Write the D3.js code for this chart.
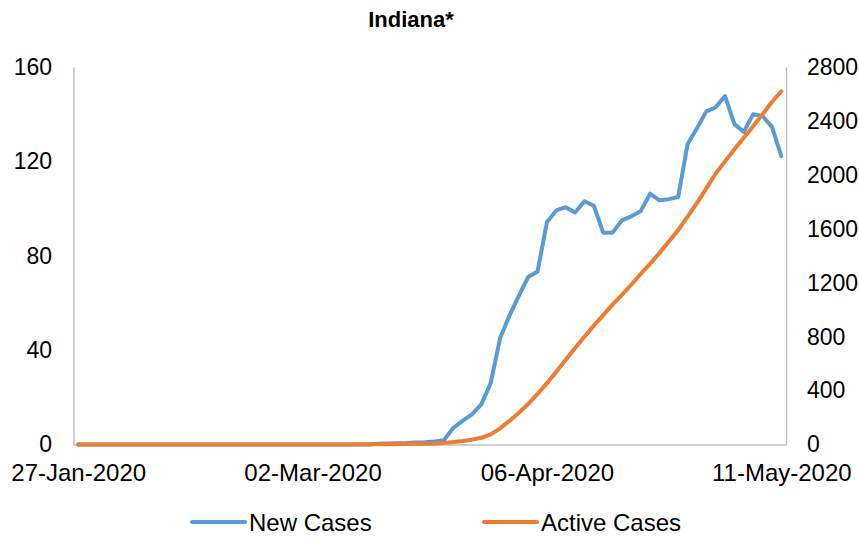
<!DOCTYPE html>
<html>
<head>
<meta charset="utf-8">
<script src="https://cdnjs.cloudflare.com/ajax/libs/d3/7.8.5/d3.min.js"></script>
<style>
    body { margin: 0; background: #fff; }
    svg text { font-family: "Liberation Sans", Arial, sans-serif; fill: #000; }
</style>
</head>
<body>
<div id="chart"></div>
<script>

// weekday categories, first one is 27-Jan-2020 (76 points, Mon-Fri only)
var startDate = new Date(2020, 0, 27);
var nPoints = 76;

// tick labels shown on the x axis (every 25th category)
var xTickIndex = [0, 25, 50, 75];

// left axis: 7-day new cases
var newCases = [
    0, 0, 0, 0, 0, 0, 0, 0, 0, 0,
    0, 0, 0, 0, 0, 0, 0, 0, 0, 0,
    0, 0, 0, 0, 0, 0, 0, 0, 0, 0,
    0, 0, 0.3, 0.4, 0.5, 0.6, 0.8, 1.0, 1.3, 1.8,
    7, 10, 12.8, 17, 26, 45, 54.6, 63, 71, 73.3,
    94.3, 99.2, 100.6, 98.3, 103.1, 101.2, 89.8, 89.8, 95, 96.7,
    98.9, 106.3, 103.5, 104, 104.9, 127.3, 134, 141.2, 142.9, 147.7,
    135.8, 132.5, 140, 139.2, 134.6, 122.2
];

// right axis: active cases
var activeCases = [
    0, 0, 0, 0, 0, 0, 0, 0, 0, 0,
    0, 0, 0, 0, 0, 0, 0, 0, 0, 0,
    0, 0, 0, 0, 0, 0, 0, 0, 0, 0,
    1, 1, 2, 2, 3, 4, 5, 6, 8, 12,
    18, 26, 36, 50, 75, 120, 175, 235, 300, 375,
    455, 540, 628, 715, 800, 882, 960, 1038, 1110, 1185,
    1265, 1340, 1420, 1505, 1590, 1690, 1790, 1900, 2010, 2100,
    2190, 2275, 2360, 2450, 2540, 2620
];

var leftTicks = [0, 40, 80, 120, 160];
var rightTicks = [0, 400, 800, 1200, 1600, 2000, 2400, 2800];

var blue = "#5B9BD5", orange = "#ED7D31", axisGrey = "#BFBFBF";

// build weekday dates
var dates = [];
var d = new Date(startDate);
while (dates.length < nPoints) {
    if (d.getDay() !== 0 && d.getDay() !== 6) dates.push(new Date(d));
    d = d3.timeDay.offset(d, 1);
}
var fmt = d3.timeFormat("%d-%b-%Y");

var width = 859, height = 538;
var plot = { left: 73.5, right: 786, top: 67, bottom: 444.5 };

var svg = d3.select("#chart").append("svg")
    .attr("width", width)
    .attr("height", height);

var x = d3.scalePoint()
    .domain(d3.range(nPoints))
    .range([plot.left, plot.right])
    .padding(0.5);

var yLeft = d3.scaleLinear().domain([0, 160]).range([plot.bottom, plot.top]);
var yRight = d3.scaleLinear().domain([0, 2800]).range([plot.bottom, plot.top]);

// title
svg.append("text")
    .attr("x", 411)
    .attr("y", 27)
    .attr("text-anchor", "middle")
    .style("font-weight", "bold")
    .style("font-size", "22px")
    .text("Indiana*");

// axes
var gLeft = svg.append("g")
    .attr("transform", "translate(" + plot.left + ",0)")
    .call(d3.axisLeft(yLeft).tickValues(leftTicks).tickSize(0).tickPadding(21.5).tickSizeOuter(0)
        .tickFormat(d3.format("d")));

var gRight = svg.append("g")
    .attr("transform", "translate(" + plot.right + ",0)")
    .call(d3.axisRight(yRight).tickValues(rightTicks).tickSize(0).tickPadding(21).tickSizeOuter(0)
        .tickFormat(d3.format("d")));

var gBottom = svg.append("g")
    .attr("transform", "translate(0," + plot.bottom + ")")
    .call(d3.axisBottom(x).tickValues(xTickIndex).tickSize(0).tickPadding(19).tickSizeOuter(0)
        .tickFormat(function(i) { return fmt(dates[i]); }));

[gLeft, gRight].forEach(function(g) {
    g.select(".domain").attr("stroke", axisGrey).attr("stroke-width", 1.5);
    g.selectAll("text")
        .style("font-size", "23px")
        .attr("fill", "#000")
        .style("font-family", "'Liberation Sans', Arial, sans-serif");
});
gBottom.select(".domain").attr("stroke", axisGrey).attr("stroke-width", 1.5);
gBottom.selectAll("text")
    .style("font-size", "24px")
    .attr("fill", "#000")
    .style("font-family", "'Liberation Sans', Arial, sans-serif");

// lines
var lineNew = d3.line()
    .x(function(v, i) { return x(i); })
    .y(function(v) { return yLeft(v); });

var lineActive = d3.line()
    .x(function(v, i) { return x(i); })
    .y(function(v) { return yRight(v); });

svg.append("path")
    .datum(newCases)
    .attr("fill", "none")
    .attr("stroke", blue)
    .attr("stroke-width", 4)
    .attr("stroke-linejoin", "round")
    .attr("stroke-linecap", "round")
    .attr("d", lineNew);

svg.append("path")
    .datum(activeCases)
    .attr("fill", "none")
    .attr("stroke", orange)
    .attr("stroke-width", 4)
    .attr("stroke-linejoin", "round")
    .attr("stroke-linecap", "round")
    .attr("d", lineActive);

// legend
var legend = [
    { name: "New Cases", color: blue, x: 192 },
    { name: "Active Cases", color: orange, x: 484 }
];

var lg = svg.selectAll(".legend")
    .data(legend)
    .enter().append("g")
    .attr("class", "legend")
    .attr("transform", function(l) { return "translate(" + l.x + ",522)"; });

lg.append("line")
    .attr("x1", 0).attr("x2", 53)
    .attr("y1", 0).attr("y2", 0)
    .attr("stroke", function(l) { return l.color; })
    .attr("stroke-width", 4)
    .attr("stroke-linecap", "round");

lg.append("text")
    .attr("x", 57)
    .attr("y", 9)
    .style("font-size", "24px")
    .text(function(l) { return l.name; });

</script>
</body>
</html>
